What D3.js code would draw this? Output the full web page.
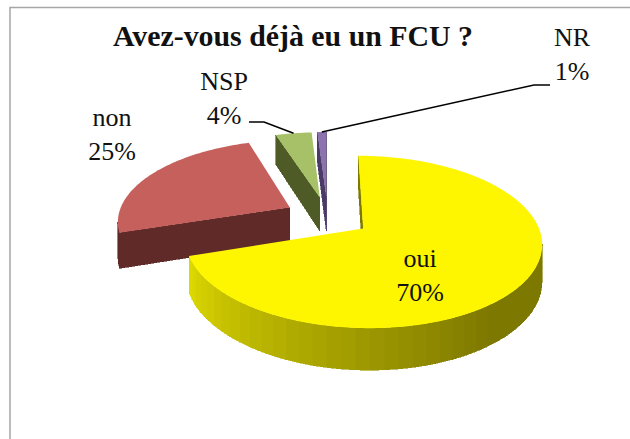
<!DOCTYPE html>
<html>
<head>
<meta charset="utf-8">
<style>
  html, body { margin: 0; padding: 0; background: #fff; }
  svg { display: block; }
  text { font-family: "Liberation Serif", serif; fill: #111; }
</style>
</head>
<body>
<svg id="chart" width="630" height="439"></svg>
<script src="https://cdn.jsdelivr.net/npm/d3@7"></script>
<script>
const categories = ['oui', 'non', 'NSP', 'NR'];
const percents = [70, 25, 4, 1];
const titleText = 'Avez-vous déjà eu un FCU ?';

const topColors = ['#fdf600', '#c5605c', '#a6c168', '#8d73ae'];
const wallColors = ['#7d7800', '#5f2a28', '#4f5b26', '#4a3a66'];

const width = 630;
const height = 439;

// Perspective disk: the front of the pie is nearer, so it draws bigger
const origin = { x: 327.5, y: 216.5 };
const radiusX = 172;
const radiusY = 80.4;
const perspective = 0.152;
const depth = 34.7;
const explode = 0.25;

const project = (x, y, down = 0) => {
  const w = 1 - perspective * y;
  return [origin.x + (radiusX * x) / w, origin.y + (radiusY * y) / w + down / w];
};

const svg = d3.select('#chart');
const line = d3.line();

// Frame, cut off by the right and bottom of the picture
svg.append('path')
  .attr('d', line([[10, height], [10, 7.5], [width, 7.5]]))
  .attr('fill', 'none')
  .attr('stroke', '#a6a6a6')
  .attr('stroke-width', 1.5);

const arcs = d3.pie().sort(null).startAngle(0).endAngle(2 * Math.PI)(percents);

// Banded shading of the curved wall, brightest at the left of the front
const wallShade = d3.scaleLinear()
  .domain([0, 143, 180, 229, 252])
  .range(['#7d7800', '#7d7800', '#9c9700', '#c9c400', '#dedb00'])
  .clamp(true);

const toDeg = (a) => (a * 180) / Math.PI;

const slices = arcs.map((arc, i) => {
  const mid = (arc.startAngle + arc.endAngle) / 2;
  const apex = [explode * Math.sin(mid), -explode * Math.cos(mid)];
  const rim = (a) => [apex[0] + Math.sin(a), apex[1] - Math.cos(a)];
  return { i, arc, mid, apex, rim };
});

const arcPoints = (s, step) => {
  const n = Math.max(2, Math.ceil((s.arc.endAngle - s.arc.startAngle) / step));
  return d3.range(n + 1).map((j) => s.arc.startAngle + ((s.arc.endAngle - s.arc.startAngle) * j) / n);
};

const quad = (a, b) => [project(...a), project(...b), project(...b, depth), project(...a, depth)];

// Walls are listed along the top outline; d3.polygonArea is positive when they face the viewer
const drawWall = (g, a, b, color) => {
  const q = quad(a, b);
  if (d3.polygonArea(q) <= 0) return;
  g.append('path')
    .attr('d', line(q) + 'Z')
    .attr('fill', color)
    .attr('stroke', color)
    .attr('stroke-width', 0.6)
    .attr('shape-rendering', 'crispEdges');
};

// Painter's order: far slices first, the big front slice last
[3, 2, 1, 0].forEach((i) => {
  const s = slices[i];
  const g = svg.append('g').attr('class', `slice-${categories[i]}`);

  drawWall(g, s.apex, s.rim(s.arc.startAngle), wallColors[i]);
  drawWall(g, s.rim(s.arc.endAngle), s.apex, wallColors[i]);

  d3.pairs(arcPoints(s, (4 * Math.PI) / 180)).forEach(([a0, a1]) => {
    const color = i === 0 ? wallShade(toDeg((a0 + a1) / 2)) : wallColors[i];
    drawWall(g, s.rim(a0), s.rim(a1), color);
  });

  const outline = [project(...s.apex), ...arcPoints(s, Math.PI / 180).map((a) => project(...s.rim(a)))];
  g.append('path')
    .attr('d', line(outline) + 'Z')
    .attr('fill', topColors[i]);
});

svg.append('text')
  .attr('x', 293)
  .attr('y', 46)
  .attr('text-anchor', 'middle')
  .attr('font-size', 29)
  .attr('font-weight', 'bold')
  .attr('textLength', 360)
  .attr('lengthAdjust', 'spacingAndGlyphs')
  .text(titleText);

// Label baselines, one per category
const labelAt = [[420, 267], [112, 126], [224, 90], [572, 46]];
categories.forEach((name, i) => {
  const t = svg.append('text')
    .attr('text-anchor', 'middle')
    .attr('font-size', 26);
  t.append('tspan').attr('x', labelAt[i][0]).attr('y', labelAt[i][1]).text(name);
  t.append('tspan').attr('x', labelAt[i][0]).attr('y', labelAt[i][1] + 34).text(`${percents[i]}%`);
});

// Leader lines run from the rim of the small slices to an elbow by the label
const leaderElbows = { 2: [[249, 122], [264, 122]], 3: [[550, 85], [534, 85]] };
Object.entries(leaderElbows).forEach(([key, elbow]) => {
  const s = slices[+key];
  svg.append('path')
    .attr('d', line([...elbow, project(...s.rim(s.mid))]))
    .attr('fill', 'none')
    .attr('stroke', '#000')
    .attr('stroke-width', 1.5);
});
</script>
</body>
</html>
